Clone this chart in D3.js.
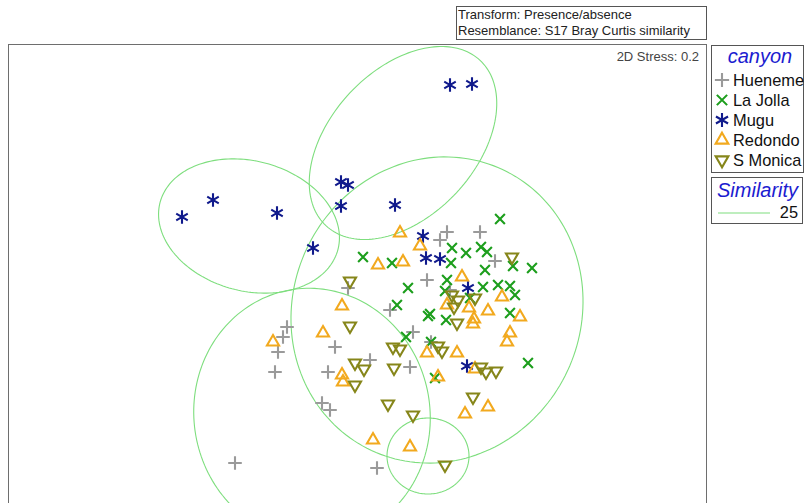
<!DOCTYPE html>
<html>
<head>
<meta charset="utf-8">
<script src="https://cdn.jsdelivr.net/npm/d3@7"></script>
<style>
  body { margin: 0; background: #fff; }
  svg { display: block; font-family: "Liberation Sans", Arial, sans-serif; }
</style>
</head>
<body>
<svg id="chart" width="805" height="503"></svg>
<script>
// nMDS ordination scores (MDS1, MDS2) by canyon
const canyons = ["Hueneme", "La Jolla", "Mugu", "Redondo", "S Monica"];

const hueneme = [
  [0.90, 0.41], [0.83, 0.33], [1.23, 0.41], [1.38, 0.12], [0.70, -0.07],
  [-0.09, -0.15], [0.33, -0.37], [0.56, -0.59], [-0.70, -0.54], [-0.74, -0.64],
  [-0.79, -0.79], [-0.82, -0.99], [-0.22, -0.74], [-0.29, -0.99], [0.13, -0.87],
  [0.53, -0.94], [0.74, -0.69], [-0.35, -1.30], [-0.27, -1.37], [-1.22, -1.90],
  [0.20, -1.95], [0.93, -0.17]
];
const laJolla = [
  [1.43, 0.54], [0.06, 0.16], [0.35, 0.10], [0.95, 0.25], [1.09, 0.20],
  [1.24, 0.26], [1.30, 0.21], [0.94, 0.10], [1.28, 0.03], [1.56, 0.07],
  [1.75, 0.05], [0.51, -0.15], [0.90, -0.07], [0.88, -0.18], [1.26, -0.14],
  [1.41, -0.12], [1.53, -0.13], [1.58, -0.22], [1.13, -0.25], [0.40, -0.32],
  [0.71, -0.43], [0.73, -0.41], [0.89, -0.47], [1.53, -0.40], [0.49, -0.64],
  [0.74, -0.69], [1.71, -0.90], [0.78, -1.05]
];
const mugu = [
  [0.93, 1.88], [1.15, 1.89], [-1.75, 0.56], [-1.44, 0.73], [-0.80, 0.60],
  [-0.16, 0.91], [-0.09, 0.88], [-0.16, 0.67], [0.38, 0.68], [-0.44, 0.25],
  [0.66, 0.37], [0.69, 0.15], [0.83, 0.14], [1.11, -0.15], [1.10, -0.93]
];
const redondo = [
  [0.43, 0.40], [0.63, 0.27], [0.21, 0.08], [0.46, 0.11], [1.05, -0.04],
  [1.45, -0.24], [1.31, -0.38], [0.90, -0.32], [1.12, -0.35], [1.17, -0.46],
  [1.16, -0.51], [1.63, -0.44], [1.53, -0.60], [1.50, -0.69], [-0.15, -0.33],
  [-0.34, -0.60], [-0.84, -0.69], [-0.15, -1.02], [-0.14, -1.09], [0.70, -0.80],
  [1.00, -0.80], [0.81, -1.04], [1.18, -0.96], [0.16, -1.67], [0.53, -1.74],
  [1.08, -1.41], [1.31, -1.34]
];
const sMonica = [
  [1.55, 0.16], [-0.07, -0.08], [-0.07, -0.53], [0.95, -0.22], [1.01, -0.27],
  [1.18, -0.25], [0.97, -0.34], [1.00, -0.50], [0.36, -0.74], [0.43, -0.76],
  [0.81, -0.73], [0.85, -0.78], [-0.02, -0.90], [0.07, -0.96], [-0.02, -1.12],
  [0.37, -0.95], [1.24, -0.94], [1.29, -0.99], [1.39, -0.98], [1.16, -1.24],
  [0.31, -1.31], [0.56, -1.42], [0.88, -1.92]
];

// 25% similarity contours: [centre MDS1, centre MDS2, semi-axis a, semi-axis b, rotation deg]
const contours25 = [
  [-1.08, 0.47, 0.92, 0.65, -15],
  [0.46, 1.30, 1.13, 0.73, 47],
  [0.80, -0.37, 1.55, 1.44, 65],
  [-0.45, -1.42, 1.27, 1.18, 100],
  [0.71, -1.83, 0.41, 0.38, 0]
];

const similarityLevels = [25];
const stressValue = 0.2;
const infoLines = ["Transform: Presence/absence", "Resemblance: S17 Bray Curtis similarity"];

const groups = [hueneme, laJolla, mugu, redondo, sMonica];
const colors = ["#9a9a9a", "#1c9e1c", "#101a8c", "#f2a91e", "#86861a"];
const shapes = [d3.symbolPlus, d3.symbolX, d3.symbolAsterisk, d3.symbolTriangle2, d3.symbolTriangle2];
const sizes = [62, 64, 125, 105, 105];
const rotations = [0, 0, 0, 0, 180];
const contourColor = "#7ede7e";

const svg = d3.select("#chart");

// plot frame
const frame = { left: 8, top: 44, right: 706, bottom: 510 };
const x = d3.scaleLinear().domain([-3.49, 3.49]).range([frame.left, frame.right]);
const y = d3.scaleLinear().domain([2.29, -2.37]).range([frame.top, frame.bottom]);

svg.append("defs").append("clipPath").attr("id", "plotClip")
  .append("rect")
  .attr("x", frame.left).attr("y", frame.top)
  .attr("width", frame.right - frame.left).attr("height", frame.bottom - frame.top);

svg.append("rect")
  .attr("x", frame.left + 0.5).attr("y", frame.top + 0.5)
  .attr("width", frame.right - frame.left).attr("height", frame.bottom - frame.top)
  .attr("fill", "#fff").attr("stroke", "#6e6e6e").attr("stroke-width", 1);

const plot = svg.append("g").attr("clip-path", "url(#plotClip)");

// contour outlines traced in ordination space
function ellipsePoints([cx, cy, a, b, deg]) {
  const phi = deg * Math.PI / 180;
  return d3.range(0, 361, 2).map(t => {
    const r = t * Math.PI / 180;
    const ex = a * Math.cos(r), ey = b * Math.sin(r);
    return [cx + ex * Math.cos(phi) - ey * Math.sin(phi),
            cy + ex * Math.sin(phi) + ey * Math.cos(phi)];
  });
}
const line = d3.line().x(d => x(d[0])).y(d => y(d[1])).curve(d3.curveLinearClosed);

plot.selectAll("path.contour")
  .data(contours25)
  .join("path")
  .attr("class", "contour")
  .attr("d", d => line(ellipsePoints(d)))
  .attr("fill", "none")
  .attr("stroke", contourColor)
  .attr("stroke-width", 1.1);

// samples
groups.forEach((pts, i) => {
  const sym = d3.symbol().type(shapes[i]).size(sizes[i]);
  plot.append("g").selectAll("path")
    .data(pts)
    .join("path")
    .attr("d", sym)
    .attr("transform", d => `translate(${x(d[0])},${y(d[1])}) rotate(${rotations[i]})`)
    .attr("fill", "none")
    .attr("stroke", colors[i])
    .attr("stroke-width", 2.1);
});

// stress label
svg.append("text")
  .attr("x", 699).attr("y", 61)
  .attr("text-anchor", "end")
  .attr("font-size", 13)
  .attr("fill", "#444")
  .text(`2D Stress: ${stressValue}`);

// transform / resemblance box
svg.append("rect")
  .attr("x", 456.5).attr("y", 6.5).attr("width", 250).attr("height", 33)
  .attr("fill", "#fff").attr("stroke", "#555");
svg.selectAll("text.info")
  .data(infoLines)
  .join("text")
  .attr("class", "info")
  .attr("x", 458)
  .attr("y", (d, i) => 19 + i * 16)
  .attr("font-size", 13)
  .attr("fill", "#222")
  .text(d => d);

// canyon legend
const leg = svg.append("g");
leg.append("rect")
  .attr("x", 711.5).attr("y", 45.5).attr("width", 92).attr("height", 127)
  .attr("fill", "#fff").attr("stroke", "#555");
leg.append("text")
  .attr("x", 760).attr("y", 63)
  .attr("text-anchor", "middle")
  .attr("font-size", 20).attr("font-style", "italic")
  .attr("fill", "#1c1cd0")
  .text("canyon");
canyons.forEach((name, i) => {
  const cy = 80 + i * 20;
  leg.append("path")
    .attr("d", d3.symbol().type(shapes[i]).size(sizes[i] * 1.1)())
    .attr("transform", `translate(722,${cy}) rotate(${rotations[i]})`)
    .attr("fill", "none")
    .attr("stroke", colors[i])
    .attr("stroke-width", 2.1);
  leg.append("text")
    .attr("x", 733).attr("y", cy + 6)
    .attr("font-size", 16.4)
    .attr("fill", "#111")
    .text(name);
});

// similarity legend
const sim = svg.append("g");
sim.append("rect")
  .attr("x", 711.5).attr("y", 177.5).attr("width", 91).attr("height", 46)
  .attr("fill", "#fff").attr("stroke", "#555");
sim.append("text")
  .attr("x", 717).attr("y", 197)
  .attr("font-size", 20).attr("font-style", "italic")
  .attr("fill", "#1c1cd0")
  .text("Similarity");
similarityLevels.forEach((lvl, i) => {
  const ly = 213 + i * 20;
  sim.append("line")
    .attr("x1", 718).attr("x2", 770).attr("y1", ly).attr("y2", ly)
    .attr("stroke", contourColor).attr("stroke-width", 1.1);
  sim.append("text")
    .attr("x", 798).attr("y", ly + 5)
    .attr("text-anchor", "end")
    .attr("font-size", 16.4)
    .attr("fill", "#111")
    .text(lvl);
});
</script>
</body>
</html>
